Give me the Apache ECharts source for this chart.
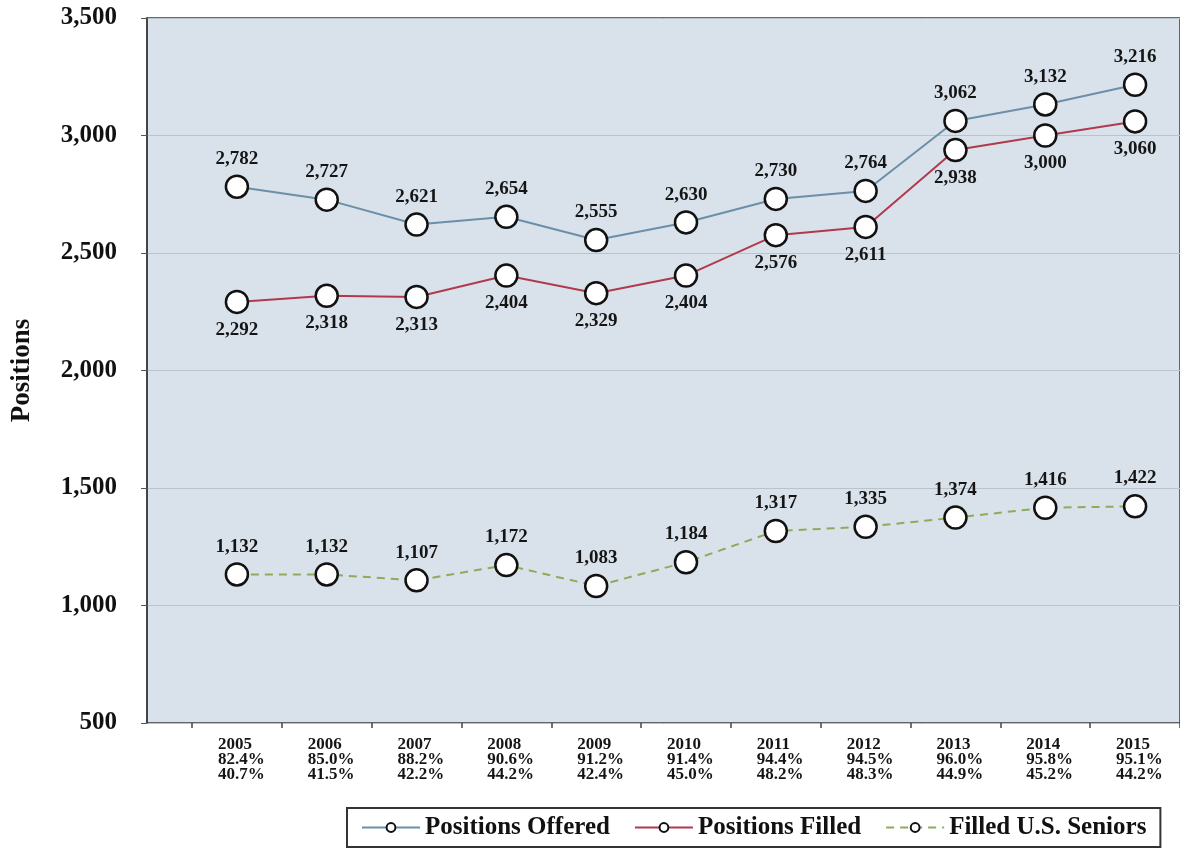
<!DOCTYPE html>
<html>
<head>
<meta charset="utf-8">
<script src="https://cdn.jsdelivr.net/npm/echarts@6/dist/echarts.min.js"></script>
<style>
  html, body { margin: 0; padding: 0; background: #fff; }
  #chart { width: 1180px; height: 852px; }
</style>
</head>
<body>
<div id="chart"></div>
<script>
// data
var years = ['2005', '2006', '2007', '2008', '2009', '2010', '2011', '2012', '2013', '2014', '2015'];
var filledPct = ['82.4%', '85.0%', '88.2%', '90.6%', '91.2%', '91.4%', '94.4%', '94.5%', '96.0%', '95.8%', '95.1%'];
var seniorPct = ['40.7%', '41.5%', '42.2%', '44.2%', '42.4%', '45.0%', '48.2%', '48.3%', '44.9%', '45.2%', '44.2%'];
var offered = [2782, 2727, 2621, 2654, 2555, 2630, 2730, 2764, 3062, 3132, 3216];
var filled = [2292, 2318, 2313, 2404, 2329, 2404, 2576, 2611, 2938, 3000, 3060];
var seniors = [1132, 1132, 1107, 1172, 1083, 1184, 1317, 1335, 1374, 1416, 1422];

var serif = '"Liberation Serif", "DejaVu Serif", serif';
var fmt = function (v) { return Number(v).toLocaleString('en-US'); };

// 点的样式
function pointLabel(pos) {
  return {
    show: true,
    position: pos,
    distance: 6,
    fontFamily: serif,
    fontWeight: 'bold',
    fontSize: 19,
    color: '#151515',
    formatter: function (p) { return fmt(p.value); }
  };
}

function makeSeries(name, data, color, dashed, labelPos) {
  return {
    name: name,
    type: 'line',
    xAxisIndex: 1,
    yAxisIndex: 1,
    data: data,
    symbol: 'circle',
    symbolSize: 22,
    itemStyle: { color: '#fff', borderColor: '#111', borderWidth: 2.5 },
    lineStyle: { color: color, width: 2, type: dashed ? [8, 6] : 'solid' },
    label: pointLabel(labelPos),
    z: 3
  };
}

var chart = echarts.init(document.getElementById('chart'));

chart.setOption({
  animation: false,
  grid: [
    // plot area (background + value axis)
    { left: 147, right: 0, top: 18, bottom: 129, show: true, outerBoundsMode: 'none',
      backgroundColor: '#d9e2ea', borderColor: '#3a3a3a', borderWidth: 1.5 },
    // category area, starts half a band later
    { left: 192, right: 0, top: 18, bottom: 129, outerBoundsMode: 'none' }
  ],
  xAxis: [
    { gridIndex: 0, type: 'value', min: 0, max: 1, show: false },
    {
      gridIndex: 1,
      type: 'category',
      data: years,
      boundaryGap: true,
      axisLine: { show: false },
      axisTick: { show: true, length: 5, lineStyle: { color: '#444', width: 1.5 } },
      axisLabel: {
        margin: 14,
        fontFamily: serif,
        fontWeight: 'bold',
        fontSize: 17,
        lineHeight: 15,
        color: '#151515',
        align: 'left',
        padding: [0, 0, 0, -19],
        formatter: function (v, i) {
          return v + '\n' + filledPct[i] + '\n' + seniorPct[i];
        }
      }
    }
  ],
  yAxis: [
    {
      gridIndex: 0,
      type: 'value',
      min: 500,
      max: 3500,
      interval: 500,
      name: 'Positions',
      nameLocation: 'middle',
      nameRotate: 90,
      nameGap: 111,
      nameTextStyle: { fontFamily: serif, fontWeight: 'bold', fontSize: 27, color: '#111' },
      axisLine: { show: true, lineStyle: { color: '#3a3a3a', width: 1.5 } },
      axisTick: { show: true, length: 6, lineStyle: { color: '#555' } },
      axisLabel: {
        margin: 30,
        fontFamily: serif,
        fontWeight: 'bold',
        fontSize: 25,
        color: '#111',
        formatter: fmt
      },
      splitLine: { show: true, lineStyle: { color: '#b9c3cc', width: 1 } }
    },
    { gridIndex: 1, type: 'value', min: 500, max: 3500, interval: 500, show: false }
  ],
  legend: {
    left: 347,
    top: 808,
    padding: [7, 14, 7, 14],
    itemWidth: 58,
    itemHeight: 11,
    itemGap: 24,
    borderColor: '#333',
    borderWidth: 2,
    backgroundColor: '#fff',
    textStyle: { fontFamily: serif, fontWeight: 'bold', fontSize: 25, color: '#111' },
    data: ['Positions Offered', 'Positions Filled', 'Filled U.S. Seniors']
  },
  series: [
    makeSeries('Positions Offered', offered, '#6b8fa8', false, 'top'),
    makeSeries('Positions Filled', filled, '#b03a4c', false, 'bottom'),
    makeSeries('Filled U.S. Seniors', seniors, '#8dab5a', true, 'top')
  ]
});
</script>
</body>
</html>
